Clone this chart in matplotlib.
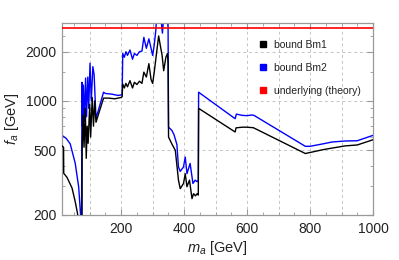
import matplotlib
matplotlib.use("Agg")
import matplotlib.pyplot as plt
from matplotlib.lines import Line2D
from matplotlib.ticker import FixedLocator, NullFormatter

plt.rcParams['font.family'] = ['Liberation Sans', 'DejaVu Sans']
plt.rcParams['mathtext.fontset'] = 'custom'
plt.rcParams['mathtext.it'] = 'Liberation Sans:italic'
plt.rcParams['mathtext.rm'] = 'Liberation Sans'

# ---- data ----
bm1_x = [12, 17, 17.5, 28, 44, 54, 61, 64, 72, 75.5,
         76, 79, 82, 86, 89, 92, 95, 100, 103, 108, 112, 116, 120, 144, 160, 180, 200, 203,
         205, 210, 215, 220, 228, 236, 242, 250, 258, 266, 272, 280, 288, 295, 300, 305, 310,
         319, 324, 330, 335, 342, 347, 349, 350.5, 361, 372, 382, 387.5, 398, 403.5, 409, 417,
         425, 430, 436, 441, 445, 446,
         562, 565, 585, 600, 620, 785, 842, 911, 950, 1000]
bm1_y = [530, 520, 360, 340, 292, 241, 206, 185, 150, 150,
         510, 820, 520, 900, 445, 700, 550, 950, 600, 1050, 700, 1000, 740, 1040, 1040, 1030, 1050, 1060,
         1270, 1200, 1280, 1220, 1330, 1200, 1300, 1260, 1320, 1280, 1500, 1400, 1690, 1350, 1280, 1500, 1800,
         2500, 2200, 1900, 1530, 1850, 1950, 1700, 600, 545, 498, 327, 290, 312, 358, 298, 327,
         252, 270, 262, 270, 265, 900,
         645, 684, 690, 690, 685, 476, 503, 530, 537, 578]

bm2_x = [12, 25, 38, 54, 65, 70, 72, 74, 75.5,
         77, 80, 83, 87, 90, 94, 97, 101, 105, 110, 114, 120, 144, 150, 170, 190, 203,
         205, 210, 215, 220, 228, 236, 242, 250, 258, 266, 272, 280, 288, 295, 300, 305, 310,
         313, 325, 331, 336, 346, 349, 350.5, 361, 368, 377, 382, 387.5, 398, 403.5, 409, 419,
         428, 435, 441, 445, 446,
         562, 566, 585, 600, 615, 622, 785, 800, 842, 870, 911, 950, 1000]
bm2_y = [615, 590, 546, 415, 297, 214, 190, 150, 1300,
         700, 1250, 750, 1380, 800, 1400, 900, 1700, 1000, 1620, 1450, 780, 1130, 1110, 1100, 1080, 1090,
         1950, 1850, 2000, 1900, 2050, 1800, 1950, 1900, 2000, 2020, 2450, 2100, 2400, 2100, 1900, 2200, 2700,
         3400, 3400, 2600, 3400, 3400, 2800, 690, 660, 620, 540, 394, 370, 394, 453, 358, 414,
         312, 327, 320, 327, 1130,
         778, 830, 815, 812, 820, 815, 527, 527, 546, 560, 568, 570, 615]

theory_x = [12, 1000]
theory_y = [2780, 2780]

x_ticks = [200, 400, 600, 800, 1000]
y_ticks = [200, 500, 1000, 2000]
y_tick_labels = ["200", "500", "1000", "2000"]

labels = ["bound Bm1", "bound Bm2", "underlying (theory)"]
colors = ["black", "#0000ff", "#ff0000"]

# ---- figure ----
fig = plt.figure(figsize=(3.99, 2.60), dpi=100)
ax = fig.add_axes([62/399, 45/260, 311/399, 192/260])

ax.plot(bm1_x, bm1_y, color=colors[0], lw=1.0, zorder=3)
ax.plot(bm2_x, bm2_y, color=colors[1], lw=1.0, zorder=2)
ax.plot(theory_x, theory_y, color=colors[2], lw=1.2, zorder=4)

ax.set_yscale('log')
ax.set_xlim(12, 1000)
ax.set_ylim(200, 3000)

ax.xaxis.set_major_locator(FixedLocator(x_ticks))
ax.xaxis.set_minor_locator(FixedLocator(list(range(50, 1001, 50))))
ax.yaxis.set_major_locator(FixedLocator(y_ticks))
ax.yaxis.set_minor_locator(FixedLocator([300, 400, 600, 700, 800, 900, 1500, 2500, 3000]))
ax.set_yticklabels(y_tick_labels)
ax.yaxis.set_minor_formatter(NullFormatter())

# grid
for gx in range(100, 1001, 100):
    ax.axvline(gx, color='#c4c4c4', lw=0.7, ls=(0, (3, 3)), zorder=0)
for gy in y_ticks:
    ax.axhline(gy, color='#c4c4c4', lw=0.7, ls=(0, (3, 3)), zorder=0)

frame_col = '#999999'
for s in ax.spines.values():
    s.set_color(frame_col)
    s.set_linewidth(0.9)
ax.tick_params(which='both', direction='in', top=True, right=True, color=frame_col,
               labelsize=10, labelcolor='#222222')
ax.tick_params(axis='x', which='both', pad=5)
ax.tick_params(axis='y', which='both', pad=4)
ax.tick_params(which='major', length=4, width=0.8)
ax.tick_params(which='minor', length=2.5, width=0.6)

ax.set_xlabel(r"$m_a$ [GeV]", fontsize=10.5, color='#222222', labelpad=2)
ax.set_ylabel(r"$f_a$ [GeV]", fontsize=10.5, color='#222222', labelpad=3)

handles = [Line2D([], [], ls='none', marker='s', markersize=5, color=c) for c in colors]
leg = ax.legend(handles, labels, loc='upper left', bbox_to_anchor=(0.615, 0.935),
                frameon=False, fontsize=7.5, labelspacing=1.25, handlelength=1.0,
                handletextpad=0.6, borderaxespad=0)
for t in leg.get_texts():
    t.set_color('#222222')

fig.savefig("out.png", dpi=100)
